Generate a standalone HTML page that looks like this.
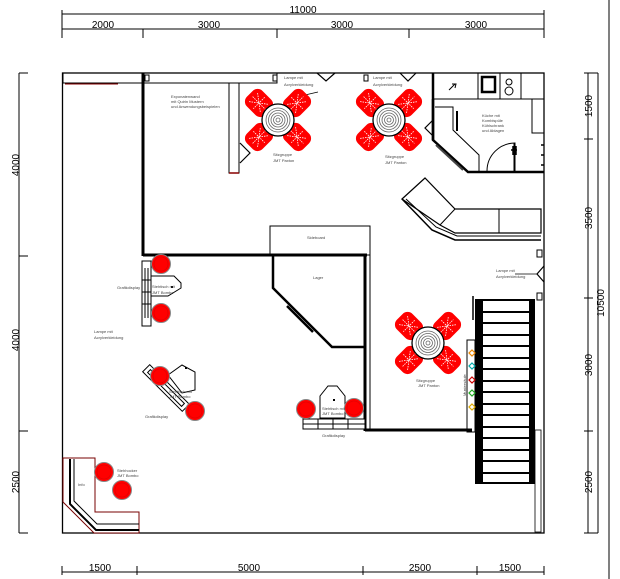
<!DOCTYPE html>
<html><head><meta charset="utf-8"><style>
html,body{margin:0;padding:0;background:#fff;}
svg{display:block;}
text{font-family:"Liberation Sans",sans-serif;}
.t{font-size:4px;fill:#444;}
.d{font-size:10px;fill:#000;}
</style></head><body>
<svg width="620" height="579" viewBox="0 0 620 579" xmlns="http://www.w3.org/2000/svg">
<defs>
<g id="chair">
<rect x="-13" y="-11" width="26" height="22" rx="7" fill="#f00"/>
<path d="M-8,-6 L8,6 M-8,6 L8,-6 M0,-8 L0,8 M-9,0 L9,0" stroke="#fff" stroke-width="0.8" stroke-dasharray="1.5 1"/>
</g>
<g id="grp">
<use href="#chair" transform="translate(-19,-17) rotate(45)"/>
<use href="#chair" transform="translate(19,-17) rotate(-45)"/>
<use href="#chair" transform="translate(-19,17) rotate(-45)"/>
<use href="#chair" transform="translate(19,17) rotate(45)"/>
<circle r="16" fill="#fff" stroke="#000" stroke-width="1.3"/>
<circle r="12" fill="none" stroke="#666" stroke-width="0.8"/>
<circle r="9.5" fill="none" stroke="#666" stroke-width="0.8"/>
<circle r="7" fill="none" stroke="#666" stroke-width="0.8"/>
<circle r="4.5" fill="none" stroke="#666" stroke-width="0.8"/>
<circle r="2" fill="none" stroke="#666" stroke-width="0.8"/>
</g>
<g id="stool">
<circle r="9.5" fill="#f00" stroke="#888" stroke-width="1"/>
<circle r="7" fill="none" stroke="#d00" stroke-width="0.6"/>
</g>
</defs>

<!-- top dimensions -->
<g stroke="#000" stroke-width="1" fill="none">
<line x1="62" y1="14" x2="544" y2="14"/>
<line x1="62" y1="10" x2="62" y2="38"/><line x1="544" y1="10" x2="544" y2="38"/>
<line x1="62" y1="29" x2="544" y2="29"/>
<line x1="143" y1="29" x2="143" y2="38"/><line x1="277" y1="29" x2="277" y2="38"/><line x1="409" y1="29" x2="409" y2="38"/>
<!-- left -->
<line x1="19" y1="73" x2="19" y2="533"/>
<line x1="19" y1="73" x2="28" y2="73"/><line x1="19" y1="256" x2="28" y2="256"/><line x1="19" y1="431" x2="28" y2="431"/><line x1="19" y1="533" x2="28" y2="533"/>
<!-- right -->
<line x1="588" y1="73" x2="588" y2="533"/><line x1="598" y1="73" x2="598" y2="533"/>
<line x1="584" y1="73" x2="598" y2="73"/><line x1="584" y1="139" x2="593" y2="139"/><line x1="584" y1="298" x2="593" y2="298"/><line x1="584" y1="431" x2="593" y2="431"/><line x1="584" y1="533" x2="598" y2="533"/>
<line x1="609" y1="0" x2="609" y2="579"/>
<!-- bottom -->
<line x1="62" y1="572" x2="544" y2="572"/>
<line x1="62" y1="566" x2="62" y2="575"/><line x1="137" y1="566" x2="137" y2="575"/><line x1="363" y1="566" x2="363" y2="575"/><line x1="477" y1="566" x2="477" y2="575"/><line x1="544" y1="566" x2="544" y2="575"/>
</g>
<text class="d" x="303" y="13" text-anchor="middle">11000</text>
<text class="d" x="103" y="28" text-anchor="middle">2000</text>
<text class="d" x="209" y="28" text-anchor="middle">3000</text>
<text class="d" x="342" y="28" text-anchor="middle">3000</text>
<text class="d" x="476" y="28" text-anchor="middle">3000</text>
<text class="d" x="100" y="571" text-anchor="middle">1500</text>
<text class="d" x="249" y="571" text-anchor="middle">5000</text>
<text class="d" x="420" y="571" text-anchor="middle">2500</text>
<text class="d" x="510" y="571" text-anchor="middle">1500</text>
<text class="d" transform="translate(19,165) rotate(-90)" text-anchor="middle">4000</text>
<text class="d" transform="translate(19,340) rotate(-90)" text-anchor="middle">4000</text>
<text class="d" transform="translate(19,482) rotate(-90)" text-anchor="middle">2500</text>
<text class="d" transform="translate(592,106) rotate(-90)" text-anchor="middle">1500</text>
<text class="d" transform="translate(592,218) rotate(-90)" text-anchor="middle">3500</text>
<text class="d" transform="translate(604,303) rotate(-90)" text-anchor="middle">10500</text>
<text class="d" transform="translate(592,365) rotate(-90)" text-anchor="middle">3000</text>
<text class="d" transform="translate(592,482) rotate(-90)" text-anchor="middle">2500</text>

<!-- plan outline -->
<rect x="62.5" y="73" width="481.5" height="460" fill="none" stroke="#000" stroke-width="1.3"/>
<g stroke="#000" fill="none">
<rect x="63" y="73" width="80" height="10" stroke-width="1"/>
<line x1="65" y1="84" x2="118" y2="84" stroke="#800" stroke-width="1"/>
<rect x="143" y="73" width="134" height="10" stroke-width="1"/>
<rect x="229" y="83" width="10" height="90" stroke-width="1"/>
<line x1="229" y1="173" x2="239" y2="173" stroke="#800" stroke-width="1.5"/>
<line x1="143" y1="73" x2="143" y2="256" stroke-width="3"/>
<line x1="143" y1="255" x2="367" y2="255" stroke-width="3"/>
<line x1="365" y1="255" x2="365" y2="431" stroke-width="3"/>
<line x1="365" y1="430" x2="472" y2="430" stroke-width="3"/>
<rect x="270" y="226" width="100" height="29" stroke-width="1"/>
<path d="M273,255 L273,288 L332,347 L365,347" stroke-width="2.5"/>
<line x1="287" y1="306" x2="313" y2="332" stroke-width="2.5"/>
<line x1="370" y1="255" x2="370" y2="431" stroke-width="1"/>
<!-- small wall ties -->
<rect x="145" y="75" width="4" height="6" stroke-width="1"/>
<rect x="273" y="75" width="4" height="6" stroke-width="1"/>
<rect x="364" y="75" width="4" height="6" stroke-width="1"/>
<!-- lamps -->
<path d="M317,73 L326,81 L335,73" stroke-width="1.2"/>
<path d="M400,73 L408,81 L416,73" stroke-width="1.2"/>
<path d="M544,266 L537,274 L544,282" stroke-width="1.2"/>
<path d="M240,143 L250,153 L240,163" stroke-width="1.2"/>
<path d="M433,120 L425,128 L433,136" stroke-width="1.2"/>
<line x1="305" y1="95" x2="318" y2="92" stroke-width="0.7"/>
<line x1="515" y1="274" x2="537" y2="274" stroke-width="0.7"/>
<!-- kitchen -->
<line x1="433" y1="73" x2="433" y2="140" stroke-width="2.5"/>
<line x1="433" y1="99" x2="544" y2="99" stroke-width="1"/>
<rect x="433" y="73" width="45" height="26" stroke-width="1"/>
<rect x="478" y="73" width="22" height="26" stroke-width="1"/>
<rect x="482" y="77" width="13" height="15" stroke-width="2.5"/>
<rect x="500" y="73" width="21" height="26" stroke-width="1"/>
<circle cx="509" cy="82" r="3" stroke-width="1"/>
<circle cx="509" cy="91" r="4" stroke-width="1"/>
<path d="M449,90 L455,84 M452,84 L456,84 L455,88" stroke-width="1"/>
<rect x="521" y="73" width="23" height="26" stroke-width="1"/>
<path d="M433,99 L433,140 L468,172 L544,172" stroke-width="2.5"/>
<path d="M435,107 L453,107 L453,130 L479,155 L479,172" stroke-width="1"/>
<line x1="457" y1="111" x2="457" y2="131" stroke-width="2"/>
<line x1="436" y1="145" x2="463" y2="170" stroke-width="2" stroke="#444"/>
<path d="M532,99 L544,99 L544,133 L532,133 Z" stroke-width="1"/>
<path d="M487,171 A28,28 0 0 1 515,143 L515,172" stroke-width="1"/>
<line x1="514" y1="143" x2="514" y2="172" stroke-width="1"/>
<path d="M511,150 L517,150 M513,146 L513,155 M516,146 L516,155" stroke-width="1.5"/>
<line x1="541" y1="145" x2="544" y2="145" stroke-width="1.5"/><line x1="541" y1="155" x2="544" y2="155" stroke-width="1.5"/><line x1="541" y1="165" x2="544" y2="165" stroke-width="1.5"/>
<!-- sofa -->
<path d="M402,199 L425,178 L455,209 L541,209 L541,233 L455,233 L440,225 Z" stroke-width="1.2"/>
<path d="M402,199 L432,230 L455,240 L541,240" stroke-width="1.5"/>
<path d="M406,199 L436,227 L457,236 L541,236" stroke-width="1"/>
<line x1="440" y1="225" x2="455" y2="209" stroke-width="1"/>
<line x1="499" y1="209" x2="499" y2="233" stroke-width="1"/>
<!-- stairs -->
<rect x="475" y="299" width="8" height="185" fill="#000" stroke="none"/>
<rect x="529" y="299" width="6" height="185" fill="#000" stroke="none"/>
<line x1="473" y1="296" x2="473" y2="320" stroke-width="1.5"/>
<rect x="535" y="430" width="6" height="102" stroke-width="0.8"/>
<rect x="537" y="250" width="5" height="7" stroke-width="1"/>
<rect x="537" y="293" width="5" height="7" stroke-width="1"/>
<rect x="467" y="340" width="8" height="92" stroke-width="1"/>
</g>
<g stroke="#000" stroke-width="2">
<line x1="483" y1="300" x2="529" y2="300"/><line x1="483" y1="312" x2="529" y2="312"/><line x1="483" y1="323" x2="529" y2="323"/><line x1="483" y1="335" x2="529" y2="335"/><line x1="483" y1="346" x2="529" y2="346"/><line x1="483" y1="358" x2="529" y2="358"/><line x1="483" y1="369" x2="529" y2="369"/><line x1="483" y1="381" x2="529" y2="381"/><line x1="483" y1="392" x2="529" y2="392"/><line x1="483" y1="404" x2="529" y2="404"/><line x1="483" y1="415" x2="529" y2="415"/><line x1="483" y1="427" x2="529" y2="427"/><line x1="483" y1="438" x2="529" y2="438"/><line x1="483" y1="450" x2="529" y2="450"/><line x1="483" y1="461" x2="529" y2="461"/><line x1="483" y1="473" x2="529" y2="473"/><line x1="483" y1="483" x2="529" y2="483"/>
</g>
<g stroke-width="1.2" fill="#fff">
<path d="M472,350 l3,3 -3,3 -3,-3z" stroke="#e80"/><path d="M472,363 l3,3 -3,3 -3,-3z" stroke="#0aa"/><path d="M472,377 l3,3 -3,3 -3,-3z" stroke="#c00"/><path d="M472,390 l3,3 -3,3 -3,-3z" stroke="#2a2"/><path d="M472,404 l3,3 -3,3 -3,-3z" stroke="#da0"/>
</g>

<!-- displays & tables -->
<g stroke="#000" fill="#fff" stroke-width="1">
<rect x="142" y="261" width="9" height="65"/>
<line x1="145" y1="268" x2="145" y2="318"/><line x1="148" y1="268" x2="148" y2="318"/>
<line x1="142" y1="280" x2="151" y2="280"/><line x1="142" y1="292" x2="151" y2="292"/><line x1="142" y1="304" x2="151" y2="304"/>
<path d="M151,283 L151,303 L168,303 L181,295 L181,290 L174,283 Z" transform="translate(0,-7)"/>
<g transform="translate(166,388) rotate(45)">
<rect x="-28" y="-5" width="56" height="10"/>
<rect x="-24" y="-2" width="48" height="4" fill="none"/>
</g>
<path d="M168,375 L182,365 L195,372 L195,390 L182,393 Z"/>
<rect x="303" y="419" width="62" height="10"/>
<line x1="303" y1="424" x2="365" y2="424"/>
<line x1="318" y1="419" x2="318" y2="429"/><line x1="333" y1="419" x2="333" y2="429"/><line x1="348" y1="419" x2="348" y2="429"/>
<path d="M320,418 L320,396 L328,386 L337,386 L345,396 L345,418 Z"/>
<!-- info counter -->
<path d="M63,458 L95,458 L95,512 L139,512 L139,533 L94,533 L63,502 Z" stroke="#700"/>
<path d="M70,459 L70,504 L96,530 L139,530" fill="none" stroke-width="2"/>
<path d="M74,459 L74,501 L97,524 L139,524" fill="none" stroke-width="1"/>
</g>
<g fill="#000">
<rect x="171" y="286" width="2" height="2"/><rect x="185" y="367" width="2" height="2"/><rect x="333" y="399" width="2" height="2"/>
</g>

<!-- seating groups -->
<use href="#grp" x="278" y="120"/>
<use href="#grp" x="389" y="120"/>
<use href="#grp" x="428" y="343"/>
<use href="#stool" x="161" y="264"/>
<use href="#stool" x="161" y="313"/>
<use href="#stool" x="160" y="376"/>
<use href="#stool" x="195" y="411"/>
<use href="#stool" x="306" y="409"/>
<use href="#stool" x="354" y="408"/>
<use href="#stool" x="104" y="472"/>
<use href="#stool" x="122" y="490"/>

<!-- labels -->
<text class="t" x="171" y="98">Exponatenwand</text>
<text class="t" x="171" y="103">mit Quirin Mustern</text>
<text class="t" x="171" y="108">und Anwendungsbeispielen</text>
<text class="t" x="284" y="79">Lampe mit</text>
<text class="t" x="284" y="86">Acrylverkleidung</text>
<text class="t" x="373" y="79">Lampe mit</text>
<text class="t" x="373" y="86">Acrylverkleidung</text>
<text class="t" x="273" y="156">Sitzgruppe</text>
<text class="t" x="273" y="162">JMT Paxton</text>
<text class="t" x="385" y="158">Sitzgruppe</text>
<text class="t" x="385" y="164">JMT Panton</text>
<text class="t" x="482" y="117">Küche mit</text>
<text class="t" x="482" y="122">Kombispüle</text>
<text class="t" x="482" y="127">Kühlschrank</text>
<text class="t" x="482" y="132">und Ablagen</text>
<text class="t" x="307" y="239">Sideboard</text>
<text class="t" x="313" y="279">Lager</text>
<text class="t" x="496" y="272">Lampe mit</text>
<text class="t" x="496" y="278">Acrylverkleidung</text>
<text class="t" x="117" y="289">Grafikdisplay</text>
<text class="t" x="152" y="288">Stehtisch mit</text>
<text class="t" x="152" y="294">JMT Bombo</text>
<text class="t" x="94" y="333">Lampe mit</text>
<text class="t" x="94" y="339">Acrylverkleidung</text>
<text class="t" x="169" y="393">Stehtisch mit</text>
<text class="t" x="169" y="398">JMT Bombo</text>
<text class="t" x="145" y="418">Grafikdisplay</text>
<text class="t" x="322" y="410">Stehtisch mit</text>
<text class="t" x="322" y="415">JMT Bombo</text>
<text class="t" x="322" y="437">Grafikdisplay</text>
<text class="t" x="416" y="382">Sitzgruppe</text>
<text class="t" x="418" y="387">JMT Panton</text>
<text class="t" x="117" y="472">Stehhocker</text>
<text class="t" x="117" y="477">JMT Bombo</text>
<text class="t" x="78" y="486">Info</text>
<text class="t" transform="translate(466,396) rotate(-90)">Mustersäule</text>
</svg>
</body></html>
